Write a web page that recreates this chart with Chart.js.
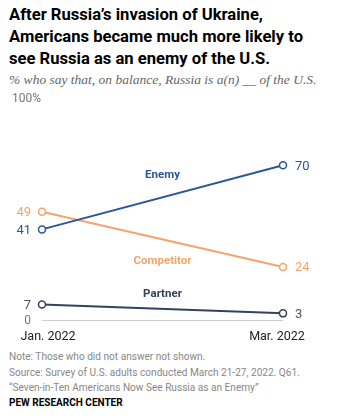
<!DOCTYPE html>
<html>
<head>
<meta charset="utf-8">
<script src="https://cdn.jsdelivr.net/npm/chart.js@4"></script>
<style>
  body { margin: 0; width: 354px; height: 419px; background: #fff; position: relative; overflow: hidden; font-family: Roboto, "Liberation Sans", sans-serif; }
  #title { position: absolute; left: 9px; top: 4px; font-weight: 700; font-size: 16.6px; line-height: 22px; color: #000; white-space: nowrap; }
  #sub { position: absolute; left: 9px; top: 72px; font-family: "Liberation Serif", serif; font-style: italic; font-size: 13.5px; color: #666; white-space: nowrap; }
  #wrap { position: absolute; left: 0; top: 85px; width: 354px; height: 260px; }
  #notes { position: absolute; left: 9px; top: 349px; font-size: 10.1px; line-height: 15.5px; color: #888; white-space: nowrap; }
  #pew { position: absolute; left: 9px; top: 397px; font-size: 10px; font-weight: 700; color: #000; }
</style>
</head>
<body>
<div id="title">After Russia’s invasion of Ukraine,<br>Americans became much more likely to<br>see Russia as an enemy of the U.S.</div>
<div id="sub">% who say that, on balance, Russia is a(n) __ of the U.S.</div>
<div id="wrap"><canvas id="myChart"></canvas></div>
<div id="notes">Note: Those who did not answer not shown.<br>Source: Survey of U.S. adults conducted March 21-27, 2022. Q61.<br>“Seven-in-Ten Americans Now See Russia as an Enemy”</div>
<div id="pew">PEW RESEARCH CENTER</div>
<script>
const categories = ['Jan. 2022', 'Mar. 2022'];
const seriesNames = ['Enemy', 'Competitor', 'Partner'];
const enemy = [41, 70];
const competitor = [49, 24];
const partner = [7, 3];
const yTicks = [0, 100];

const colors = ['#2b5797', '#f5a46c', '#34425e'];
const valueColors = ['#2b5797', '#f5a46c', '#555'];
// where the series name sits (in % units on the y scale)
const nameAt = [65.5, 26.5, 11.5];

function font(size, weight) {
  return (weight || '') + ' ' + size + 'px Roboto, "Liberation Sans", sans-serif';
}

const labelPlugin = {
  id: 'labels',
  afterDatasetsDraw(chart) {
    const {ctx, scales: {x, y}} = chart;
    ctx.save();
    // baseline at 0
    ctx.strokeStyle = '#cfcfcf';
    ctx.lineWidth = 1;
    ctx.beginPath();
    ctx.moveTo(x.getPixelForValue(0), Math.round(y.getPixelForValue(0)) + 0.5);
    ctx.lineTo(x.getPixelForValue(1), Math.round(y.getPixelForValue(0)) + 0.5);
    ctx.stroke();
    chart.data.datasets.forEach((d, i) => {
      ctx.font = font(13);
      ctx.fillStyle = valueColors[i];
      ctx.textBaseline = 'middle';
      ctx.textAlign = 'right';
      ctx.fillText(d.data[0], x.getPixelForValue(0) - 11, y.getPixelForValue(d.data[0]) + 1);
      ctx.textAlign = 'left';
      ctx.fillText(d.data[1], x.getPixelForValue(1) + 12, y.getPixelForValue(d.data[1]) + 1);
      ctx.font = font(11.5, 'bold');
      ctx.fillStyle = colors[i];
      ctx.textAlign = 'center';
      ctx.fillText(d.label, (x.getPixelForValue(0) + x.getPixelForValue(1)) / 2, y.getPixelForValue(nameAt[i]));
    });
    // y tick labels
    ctx.font = font(12);
    ctx.fillStyle = '#777';
    ctx.textAlign = 'right';
    ctx.fillText(yTicks[0], x.getPixelForValue(0) - 11, y.getPixelForValue(yTicks[0]) + 1);
    ctx.textAlign = 'left';
    ctx.fillText(yTicks[1] + '%', 12, y.getPixelForValue(yTicks[1]));
    // x labels
    ctx.font = font(12.5);
    ctx.fillStyle = '#222';
    ctx.textBaseline = 'middle';
    ctx.textAlign = 'center';
    const ly = y.getPixelForValue(0) + 17;
    ctx.fillText(categories[0], x.getPixelForValue(0) + 6, ly);
    ctx.fillText(categories[1], x.getPixelForValue(1) - 6, ly);
    ctx.restore();
  }
};

const values = [enemy, competitor, partner];
new Chart(document.getElementById('myChart'), {
  type: 'line',
  plugins: [labelPlugin],
  data: {
    labels: categories,
    datasets: seriesNames.map((n, i) => ({
      label: n,
      data: values[i],
      borderColor: colors[i],
      borderWidth: 2,
      pointRadius: 3.5,
      pointBorderWidth: 1.5,
      pointBackgroundColor: '#fff',
      pointBorderColor: colors[i],
      clip: false
    }))
  },
  options: {
    responsive: true,
    maintainAspectRatio: false,
    animation: false,
    layout: { padding: { left: 42, right: 71, top: 14, bottom: 25 } },
    plugins: { legend: { display: false }, tooltip: { enabled: false } },
    scales: {
      x: { display: false, offset: false },
      y: { display: false, min: 0, max: 100 }
    }
  }
});
</script>
</body>
</html>
